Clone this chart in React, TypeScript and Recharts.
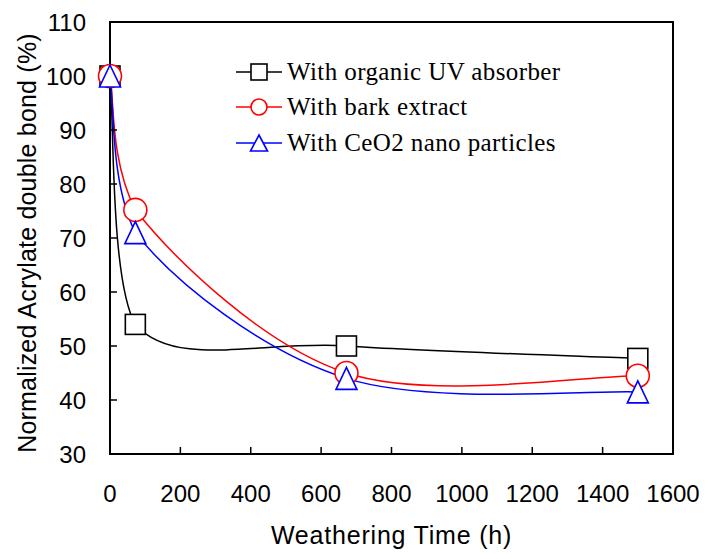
import { LineChart, Line, XAxis, YAxis, ReferenceArea } from 'recharts';

const times = [0, 72, 672, 1500];
const organicUV = [100, 54, 50, 47.7];
const barkExtract = [100, 75.2, 45, 44.5];
const ceo2 = [100, 71, 44, 41.5];

const xTicks = [0, 200, 400, 600, 800, 1000, 1200, 1400, 1600];
const yTicks = [30, 40, 50, 60, 70, 80, 90, 100, 110];

const seriesNames = ['With organic UV absorber', 'With bark extract', 'With CeO2 nano particles'];

const data = times.map((t, i) => ({
  t,
  uv: organicUV[i],
  bark: barkExtract[i],
  ceo2: ceo2[i],
}));

// Excel-style smoothed line (catmull-rom bezier, control x kept inside segment)
const smoothCurve = (context: any) => {
  let pts: number[][] = [];
  return {
    areaStart() {},
    areaEnd() {},
    lineStart() { pts = []; },
    point(x: number, y: number) { pts.push([+x, +y]); },
    lineEnd() {
      const n = pts.length;
      if (!n) return;
      context.moveTo(pts[0][0], pts[0][1]);
      for (let i = 0; i < n - 1; i++) {
        const p0 = pts[Math.max(i - 1, 0)], p1 = pts[i], p2 = pts[i + 1], p3 = pts[Math.min(i + 2, n - 1)];
        const lo = Math.min(p1[0], p2[0]), hi = Math.max(p1[0], p2[0]);
        const clampX = (v: number) => Math.min(hi, Math.max(lo, v));
        context.bezierCurveTo(
          clampX(p1[0] + (p2[0] - p0[0]) / 6), p1[1] + (p2[1] - p0[1]) / 6,
          clampX(p2[0] - (p3[0] - p1[0]) / 6), p2[1] - (p3[1] - p1[1]) / 6,
          p2[0], p2[1],
        );
      }
    },
  };
};

const SquareDot = ({ cx, cy, s = 20, color = '#000' }: any) => (
  <rect x={cx - s / 2} y={cy - s / 2} width={s} height={s} fill="#fff" stroke={color} strokeWidth={1.6} />
);
const CircleDot = ({ cx, cy, r = 11.5, color = '#ff0000' }: any) => (
  <circle cx={cx} cy={cy} r={r} fill="#fff" stroke={color} strokeWidth={1.6} />
);
const TriangleDot = ({ cx, cy, w = 21, h = 22, color = '#0000ff' }: any) => (
  <polygon
    points={`${cx},${cy - h / 2} ${cx + w / 2},${cy + h / 2} ${cx - w / 2},${cy + h / 2}`}
    fill="#fff" stroke={color} strokeWidth={1.6}
  />
);

const legendItems = [
  { name: seriesNames[0], color: '#000000', Mark: SquareDot, size: { s: 16 } },
  { name: seriesNames[1], color: '#ff0000', Mark: CircleDot, size: { r: 8 } },
  { name: seriesNames[2], color: '#0000ff', Mark: TriangleDot, size: { w: 17, h: 16 } },
];

const ChartLegend = () => (
  <div style={{
    position: 'absolute', top: 54, left: 236,
    fontFamily: '"Liberation Serif", "Times New Roman", serif', fontSize: 25, letterSpacing: 0.4, color: '#000',
  }}>
    {legendItems.map(({ name, color, Mark, size }) => (
      <div key={name} style={{ display: 'flex', alignItems: 'center', height: 35.5 }}>
        <svg width={46} height={24} style={{ marginRight: 5 }}>
          <line x1={0} y1={12} x2={46} y2={12} stroke={color} strokeWidth={1.6} />
          <Mark cx={23} cy={12} color={color} {...size} />
        </svg>
        <span style={{ whiteSpace: 'nowrap' }}>{name}</span>
      </div>
    ))}
  </div>
);

const sans = '"Liberation Sans", Arial, sans-serif';
const axisFont = { fontSize: 24, fill: '#000', fontFamily: sans };

const yTitle = (props: any) => {
  const vb = props.viewBox;
  const cy = vb.y + vb.height / 2 + 5;
  return (
    <text x={27} y={cy} transform={`rotate(-90, 27, ${cy})`} textAnchor="middle" dominantBaseline="central"
      fontSize={25} letterSpacing={0.2} fontFamily={sans} fill="#000">
      Normalized Acrylate double bond (%)
    </text>
  );
};

export default function App() {
  return (
    <div style={{ position: 'absolute', left: 0, top: 0, width: 708, height: 559, background: '#fff' }}>
      <LineChart width={708} height={559} data={data} margin={{ top: 22, right: 35, left: 0, bottom: 0 }}>
        <XAxis
          dataKey="t" type="number" domain={[0, 1600]} ticks={xTicks} interval={0}
          height={105} tick={axisFont} tickSize={-7} tickMargin={38}
          axisLine={{ stroke: '#000', strokeWidth: 2 }} tickLine={{ stroke: '#000', strokeWidth: 1.5 }}
          label={{ value: 'Weathering Time (h)', position: 'insideTop', offset: 72, ...axisFont, fontSize: 25, letterSpacing: 0.8 }}
        />
        <YAxis
          type="number" domain={[30, 110]} ticks={yTicks} interval={0} width={110}
          tick={axisFont} tickSize={-7} tickMargin={31}
          axisLine={{ stroke: '#000', strokeWidth: 2 }} tickLine={{ stroke: '#000', strokeWidth: 1.5 }}
          label={{ content: yTitle }}
        />
        <ReferenceArea x1={0} x2={1600} y1={30} y2={110} fill="none" stroke="#000" strokeWidth={2} ifOverflow="visible" />
        <Line
          dataKey="uv" name={seriesNames[0]} type={smoothCurve as any} stroke="#000" strokeWidth={1.5}
          dot={(p: any) => <SquareDot key={p.key} cx={p.cx} cy={p.cy} />} isAnimationActive={false}
        />
        <Line
          dataKey="bark" name={seriesNames[1]} type={smoothCurve as any} stroke="#ff0000" strokeWidth={1.5}
          dot={(p: any) => <CircleDot key={p.key} cx={p.cx} cy={p.cy} />} isAnimationActive={false}
        />
        <Line
          dataKey="ceo2" name={seriesNames[2]} type={smoothCurve as any} stroke="#0000ff" strokeWidth={1.5}
          dot={(p: any) => <TriangleDot key={p.key} cx={p.cx} cy={p.cy} />} isAnimationActive={false}
        />
      </LineChart>
      <ChartLegend />
    </div>
  );
}
